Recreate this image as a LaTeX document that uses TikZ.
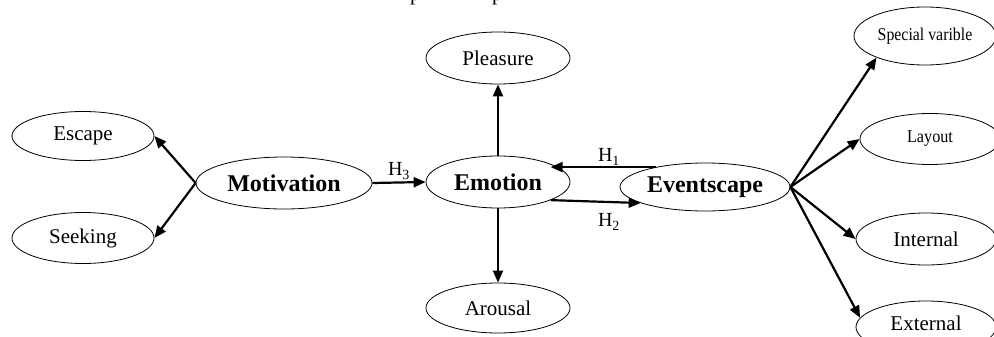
\documentclass[tikz,border=0pt]{standalone}
\usepackage{fontspec}
\setmainfont{Liberation Serif}
\usetikzlibrary{shapes.geometric,arrows.meta}
\tikzset{
  oval/.style={ellipse, draw, line width=0.8pt, inner sep=0pt, font=\fontsize{21}{24}\selectfont},
  boldoval/.style={oval, font=\fontsize{24}{28}\selectfont\bfseries},
  smalloval/.style={oval, font=\fontsize{18}{21}\selectfont},
  link/.style={line width=2.2pt, -{Triangle[length=12pt,width=10pt]}},
  hlab/.style={inner sep=0pt, font=\fontsize{20}{23}\selectfont},
}
\begin{document}
\begin{tikzpicture}[x=1pt,y=-1pt]
\useasboundingbox (0,0) rectangle (994,337);
\clip (0,0) rectangle (994,337);
% cropped text fragments at the top edge
\node[inner sep=0pt, anchor=base west, font=\fontsize{21}{24}\selectfont] (p1) at (410,0.5) {p};
\node[inner sep=0pt, anchor=base west, font=\fontsize{21}{24}\selectfont] (p2) at (492,0.5) {p};
% nodes
\node[oval, minimum width=142pt, minimum height=49pt] (esc) at (83,136) {Escape};
\node[oval, minimum width=142pt, minimum height=51pt] (seek) at (83,238) {Seeking};
\node[boldoval, minimum width=176pt, minimum height=52pt] (mot) at (284,183) {Motivation};
\node[boldoval, minimum width=144pt, minimum height=52pt] (emo) at (498,182) {Emotion};
\node[boldoval, minimum width=170pt, minimum height=48pt] (ev) at (705,187) {Eventscape};
\node[oval, minimum width=144pt, minimum height=52pt] (ple) at (498,58) {Pleasure};
\node[oval, minimum width=144pt, minimum height=50pt] (aro) at (498,308) {Arousal};
\node[smalloval, minimum width=142pt, minimum height=58pt] (sv) at (925,36) {\scalebox{0.88}[1]{Special varible}};
\node[smalloval, minimum width=140pt, minimum height=51pt] (lay) at (930,139) {\scalebox{0.9}[1]{Layout}};
\node[oval, minimum width=140pt, minimum height=52pt] (int) at (926,239) {Internal};
\node[oval, minimum width=140pt, minimum height=52pt] (ext) at (926,327) {\raisebox{7pt}{External}};
% connectors
\draw[link] (mot.west) -- (esc.east);
\draw[link] (mot.west) -- (seek.east);
\draw[link] (mot.east) -- (emo.west);
\draw[link] (emo.north) -- (ple.south);
\draw[link] (emo.south) -- (aro.north);
\draw[link] (ev.158) -- (emo.19 |- ev.158);
\draw[link] (emo.-19) -- (ev.194);
\draw[link] (ev.east) -- (sv.204);
\draw[link] (ev.east) -- (lay.west);
\draw[link] (ev.east) -- (int.west);
\draw[link] (ev.east) -- (ext.172);
% labels
\node[hlab] (h3) at (399,171) {H\textsubscript{3}};
\node[hlab] (h1) at (609,157) {H\textsubscript{1}};
\node[hlab] (h2) at (609,222) {H\textsubscript{2}};
\end{tikzpicture}
\end{document}
